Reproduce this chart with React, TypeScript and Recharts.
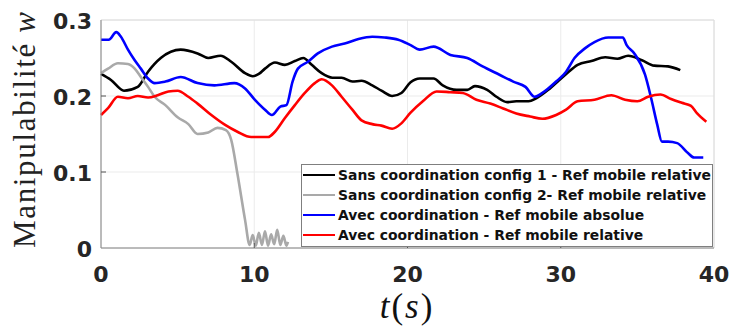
import React from "react";
import {
  CartesianGrid,
  Legend,
  Line,
  LineChart,
  ReferenceArea,
  XAxis,
  YAxis,
} from "recharts";

// [t (s), manipulability w]
const sansConfig1: [number, number][] = [
  [0, 0.229], [0.65, 0.221], [1.5, 0.207], [2.4, 0.212], [3.07, 0.232], [3.9, 0.25],
  [5.2, 0.261], [6.3, 0.256], [7.0, 0.25], [7.8, 0.253], [8.5, 0.245], [9.4, 0.23],
  [9.9, 0.226], [10.3, 0.229], [10.7, 0.236], [11.35, 0.244], [12.0, 0.241], [12.65, 0.246],
  [13.2, 0.25], [13.75, 0.241], [14.4, 0.23], [15.1, 0.224], [15.7, 0.224], [16.4, 0.219],
  [17.0, 0.22], [17.7, 0.214], [18.3, 0.207], [19.0, 0.2], [19.6, 0.204], [20.2, 0.218],
  [20.8, 0.223], [21.7, 0.223], [22.3, 0.214], [23.2, 0.208], [23.9, 0.208], [24.4, 0.213],
  [25.2, 0.208], [25.8, 0.199], [26.5, 0.192], [27.1, 0.193], [27.9, 0.193], [28.4, 0.197],
  [29.3, 0.21], [30.3, 0.228], [31.1, 0.241], [32.0, 0.246], [32.9, 0.251], [33.7, 0.249],
  [34.4, 0.253], [35.3, 0.247], [36.1, 0.24], [37.0, 0.239], [37.8, 0.234],
];

const sansConfig2: [number, number][] = [
  [0, 0.23], [0.46, 0.236], [1.1, 0.243], [1.76, 0.242], [2.2, 0.236], [2.6, 0.225],
  [3.07, 0.212], [3.5, 0.199], [4.2, 0.188], [5.0, 0.172], [5.7, 0.163], [6.3, 0.15],
  [7.0, 0.152], [7.6, 0.158], [8.15, 0.155], [8.5, 0.142], [8.9, 0.098], [9.4, 0.037],
  [9.7, 0.004], [9.9, 0.017], [10.1, 0.003], [10.3, 0.02], [10.5, 0.004], [10.7, 0.022],
  [10.9, 0.003], [11.1, 0.018], [11.3, 0.005], [11.5, 0.024], [11.7, 0.004], [11.9, 0.016],
  [12.1, 0.003], [12.2, 0.008],
];

const avecAbsolue: [number, number][] = [
  [0, 0.274], [0.5, 0.274], [1.0, 0.284], [1.3, 0.278], [1.76, 0.261], [2.2, 0.247],
  [2.6, 0.236], [3.07, 0.223], [3.5, 0.217], [4.2, 0.219], [5.2, 0.225], [6.3, 0.217],
  [7.4, 0.214], [8.7, 0.217], [9.4, 0.21], [10.0, 0.196], [10.7, 0.182], [11.15, 0.175],
  [11.7, 0.186], [12.1, 0.188], [12.5, 0.219], [12.85, 0.236], [13.5, 0.245], [14.15, 0.256],
  [15.07, 0.265], [15.9, 0.269], [16.8, 0.275], [17.7, 0.278], [18.5, 0.277], [19.4, 0.274],
  [20.2, 0.267], [20.8, 0.261], [21.7, 0.265], [22.8, 0.254], [23.9, 0.25], [24.9, 0.239],
  [26.0, 0.228], [26.9, 0.219], [27.7, 0.212], [28.3, 0.199], [28.8, 0.204], [29.7, 0.219],
  [30.35, 0.232], [30.9, 0.25], [31.6, 0.263], [32.2, 0.271], [33.1, 0.277], [34.05, 0.277],
  [34.3, 0.267], [34.8, 0.256], [35.5, 0.228], [35.9, 0.197], [36.3, 0.162], [36.6, 0.14],
  [37.0, 0.14], [37.6, 0.138], [38.3, 0.125], [38.7, 0.119], [39.3, 0.119],
];

const avecRelative: [number, number][] = [
  [0, 0.175], [0.46, 0.184], [1.1, 0.199], [1.76, 0.197], [2.4, 0.2], [3.07, 0.198],
  [3.7, 0.201], [4.4, 0.206], [5.0, 0.207], [5.7, 0.199], [6.3, 0.19], [7.2, 0.175],
  [8.1, 0.162], [8.9, 0.153], [9.8, 0.146], [10.9, 0.146], [11.35, 0.153], [12.0, 0.171],
  [12.65, 0.188], [13.3, 0.204], [13.95, 0.217], [14.4, 0.222], [15.07, 0.214], [15.7, 0.199],
  [16.4, 0.182], [17.0, 0.168], [17.7, 0.163], [18.3, 0.161], [19.0, 0.157], [19.6, 0.164],
  [20.2, 0.178], [21.0, 0.193], [21.9, 0.206], [22.8, 0.205], [23.6, 0.204], [24.5, 0.195],
  [25.4, 0.19], [26.2, 0.184], [27.1, 0.177], [28.0, 0.173], [28.8, 0.17], [29.7, 0.175],
  [30.35, 0.182], [31.1, 0.193], [32.2, 0.195], [33.3, 0.201], [34.2, 0.195], [35.0, 0.193],
  [35.7, 0.199], [36.5, 0.202], [37.2, 0.196], [37.9, 0.191], [38.5, 0.187], [38.9, 0.177],
  [39.5, 0.166],
];

const xTicks = [0, 10, 20, 30, 40];
const yTicks = [0, 0.1, 0.2, 0.3];

const series = [
  { name: "Sans coordination config 1 - Ref mobile relative", color: "#000000", data: sansConfig1 },
  { name: "Sans coordination config 2- Ref mobile relative", color: "#a9a9a9", data: sansConfig2 },
  { name: "Avec coordination - Ref mobile absolue", color: "#0000ff", data: avecAbsolue },
  { name: "Avec coordination - Ref mobile relative", color: "#ff0000", data: avecRelative },
];

const toPoints = (d: [number, number][]) => d.map(([t, w]) => ({ t, w }));

const TICK_FONT = {
  fontFamily: "DejaVu Sans",
  fontWeight: 700,
  fontSize: 22,
  fill: "#262626",
};

function XTick(props: any) {
  const { x, y, payload } = props;
  const v = payload.value;
  const inner = v !== 0 && v !== 40;
  return (
    <g>
      {inner && <line x1={x} x2={x} y1={y} y2={y - 5} stroke="#555" strokeWidth={1} />}
      <text x={x} y={y + 34} textAnchor="middle" {...TICK_FONT}>
        {v}
      </text>
    </g>
  );
}

function YTick(props: any) {
  const { x, y, payload } = props;
  const v = payload.value;
  const inner = v !== 0 && v !== 0.3;
  return (
    <g>
      {inner && <line x1={x} x2={x + 5} y1={y} y2={y} stroke="#555" strokeWidth={1} />}
      <text x={x - 9} y={y + 9} textAnchor="end" {...TICK_FONT}>
        {v}
      </text>
    </g>
  );
}

// legend keeps the plotting order of the series (recharts would sort it by name)
function LegendBox() {
  return (
    <div
      style={{
        boxSizing: "border-box",
        width: 412,
        height: 83,
        border: "1px solid #7f7f7f",
        background: "#fff",
        fontFamily: "DejaVu Sans",
        fontWeight: 700,
        fontSize: 13.9,
        color: "#111",
      }}
    >
      {series.map((s) => (
        <div key={s.name} style={{ display: "flex", alignItems: "center", height: 20, whiteSpace: "nowrap" }}>
          <span style={{ display: "inline-block", width: 32, height: 2, marginLeft: 1, marginRight: 3, background: s.color }} />
          {s.name}
        </div>
      ))}
    </div>
  );
}

export default function App() {
  return (
    <div style={{ position: "absolute", left: 0, top: 0, width: 732, height: 326, background: "#fff" }}>
      <LineChart width={732} height={326} margin={{ top: 20, right: 18, bottom: 0, left: 0 }}>
        <CartesianGrid stroke="#ebebeb" strokeDasharray="0" />
        <ReferenceArea x1={0} x2={40} y1={0} y2={0.3} fill="none" stroke="#dcdcdc" strokeWidth={1} />
        <XAxis
          dataKey="t"
          type="number"
          domain={[0, 40]}
          ticks={xTicks}
          height={78}
          tickSize={0}
          tickMargin={0}
          tickLine={false}
          axisLine={{ stroke: "#8c8c8c" }}
          tick={<XTick />}
          label={{
            content: () => (
              <text x={407} y={318} textAnchor="middle" fontFamily="Liberation Serif" fontSize={35} fill="#111" letterSpacing={2}>
                <tspan fontStyle="italic">t</tspan>
                <tspan>(</tspan>
                <tspan fontStyle="italic">s</tspan>
                <tspan>)</tspan>
              </text>
            ),
          }}
        />
        <YAxis
          dataKey="w"
          type="number"
          domain={[0, 0.3]}
          ticks={yTicks}
          width={101}
          tickSize={0}
          tickMargin={0}
          tickLine={false}
          axisLine={{ stroke: "#8c8c8c" }}
          tick={<YTick />}
          label={{
            content: () => (
              <text
                transform="translate(35,130) rotate(-90)"
                textAnchor="middle"
                fontFamily="Liberation Serif"
                fontSize={31}
                fill="#222"
                textLength={236}
                lengthAdjust="spacing"
              >
                Manipulabilité <tspan fontStyle="italic">w</tspan>
              </text>
            ),
          }}
        />
        <Legend
          layout="vertical"
          align="center"
          verticalAlign="middle"
          content={<LegendBox />}
          wrapperStyle={{ left: 301, top: 164, width: 412, height: 83 }}
        />
        {series.map((s) => (
          <Line
            key={s.name}
            name={s.name}
            data={toPoints(s.data)}
            dataKey="w"
            type="monotone"
            stroke={s.color}
            strokeWidth={2.6}
            dot={false}
            activeDot={false}
            isAnimationActive={false}
          />
        ))}
      </LineChart>
    </div>
  );
}
